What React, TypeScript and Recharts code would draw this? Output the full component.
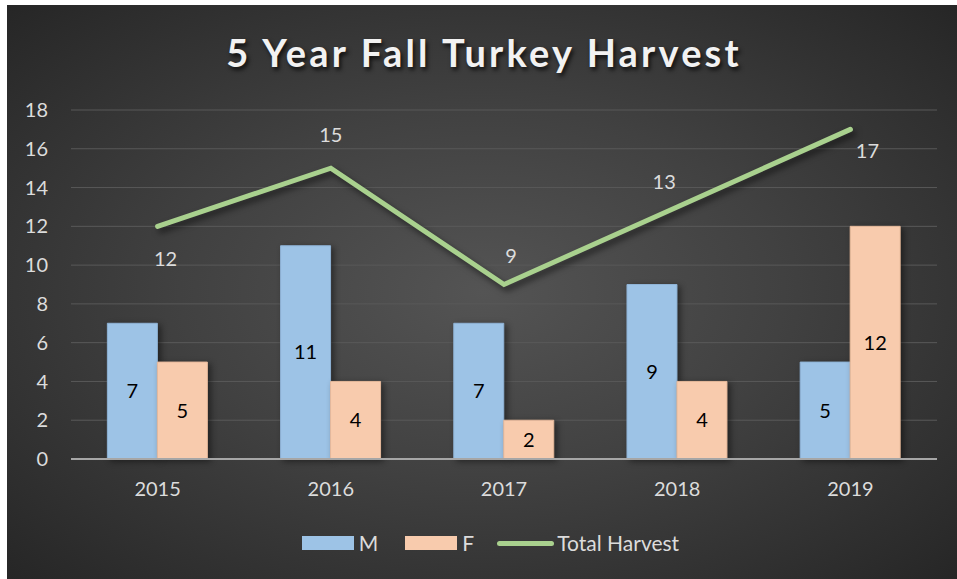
import {
  ComposedChart, Bar, Line, XAxis, YAxis, CartesianGrid, LabelList, Legend,
} from "recharts";

const years = ["2015", "2016", "2017", "2018", "2019"];
const male = [7, 11, 7, 9, 5];
const female = [5, 4, 2, 4, 12];
const total = [12, 15, 9, 13, 17];
const yTicks = [0, 2, 4, 6, 8, 10, 12, 14, 16, 18];

// where each total label sits relative to its point
const totalLabelShift = [
  { dx: 8, dy: 33 },
  { dx: 0, dy: -33 },
  { dx: 7, dy: -29 },
  { dx: -13, dy: -25 },
  { dx: 17, dy: 22 },
];

const data = years.map((year, i) => ({
  year,
  M: male[i],
  F: female[i],
  total: total[i],
}));

const FONT = "Lato, 'Open Sans', sans-serif";
const TEXT = "#dcdcdc";
const BLUE = "#9dc3e6";
const PEACH = "#f8cbad";
const GREEN = "#a9d18e";

function TotalLabel(props: any) {
  const { x, y, index, value } = props;
  const s = totalLabelShift[index] ?? { dx: 0, dy: -20 };
  return (
    <text
      x={x + s.dx}
      y={y + s.dy}
      dy="0.35em"
      textAnchor="middle"
      fill={TEXT}
      fontSize={20}
      fontFamily={FONT}
    >
      {value}
    </text>
  );
}

function LegendBox() {
  const item = { display: "flex", alignItems: "center" } as const;
  const label = { color: TEXT, fontSize: 21, fontFamily: FONT, marginLeft: 5, lineHeight: "24px" };
  return (
    <div style={{ display: "flex", justifyContent: "center", alignItems: "center", paddingLeft: 17 }}>
      <div style={item}>
        <span style={{ width: 52, height: 14, background: BLUE, display: "inline-block" }} />
        <span style={label}>M</span>
      </div>
      <div style={{ ...item, marginLeft: 27 }}>
        <span style={{ width: 52, height: 14, background: PEACH, display: "inline-block" }} />
        <span style={label}>F</span>
      </div>
      <div style={{ ...item, marginLeft: 23 }}>
        <span style={{ width: 57, height: 5, borderRadius: 3, background: GREEN, display: "inline-block" }} />
        <span style={{ ...label, marginLeft: 3 }}>Total Harvest</span>
      </div>
    </div>
  );
}

export default function App() {
  return (
    <div
      style={{
        position: "absolute",
        left: 7,
        top: 5,
        width: 950,
        height: 574,
        background: "radial-gradient(ellipse at 50% 50%, #545454 0%, #414141 45%, #262626 100%)",
        fontFamily: FONT,
        overflow: "hidden",
      }}
    >
      <style>{`
        .recharts-line-curve { filter: drop-shadow(3px 4px 3px rgba(0,0,0,0.55)); }
        .recharts-bar-rectangle path { filter: drop-shadow(3px 2px 3px rgba(0,0,0,0.45)); }
      `}</style>
      <div
        style={{
          position: "absolute",
          top: 23,
          left: 2,
          width: 950,
          textAlign: "center",
          color: "#f2f2f2",
          fontSize: 38,
          lineHeight: "48px",
          fontWeight: 700,
          letterSpacing: 3.2,
          textShadow: "2px 3px 4px rgba(0,0,0,0.75)",
        }}
      >
        5 Year Fall Turkey Harvest
      </div>
      <ComposedChart
        width={950}
        height={574}
        data={data}
        margin={{ top: 105, right: 20, left: 14, bottom: 80 }}
        barGap={0}
        barCategoryGap="21%"
      >
        <CartesianGrid vertical={false} stroke="#595959" strokeWidth={1} />
        <XAxis
          dataKey="year"
          height={40}
          tickLine={false}
          axisLine={{ stroke: "#a6a6a6", strokeWidth: 2 }}
          tick={{ fill: TEXT, fontSize: 20, fontFamily: FONT }}
          tickMargin={17}
        />
        <YAxis
          width={50}
          domain={[0, 18]}
          ticks={yTicks}
          interval={0}
          tickLine={false}
          axisLine={false}
          tick={{ fill: TEXT, fontSize: 20, fontFamily: FONT }}
          tickMargin={17}
        />
        <Legend
          layout="horizontal"
          verticalAlign="middle"
          align="center"
          wrapperStyle={{ top: 526, left: 0, width: 950 }}
          content={() => <LegendBox />}
        />
        <Bar dataKey="M" fill={BLUE} stroke="#8fb3d6" strokeWidth={1} isAnimationActive={false}>
          <LabelList dataKey="M" position="center" fill="#000" fontSize={20} fontFamily={FONT} />
        </Bar>
        <Bar dataKey="F" fill={PEACH} stroke="#e6b99b" strokeWidth={1} isAnimationActive={false}>
          <LabelList dataKey="F" position="center" fill="#000" fontSize={20} fontFamily={FONT} />
        </Bar>
        <Line
          type="linear"
          dataKey="total"
          name="Total Harvest"
          stroke={GREEN}
          strokeWidth={5}
          strokeLinecap="round"
          strokeLinejoin="miter"
          dot={false}
          activeDot={false}
          isAnimationActive={false}
        >
          <LabelList dataKey="total" content={TotalLabel} />
        </Line>
      </ComposedChart>
    </div>
  );
}
